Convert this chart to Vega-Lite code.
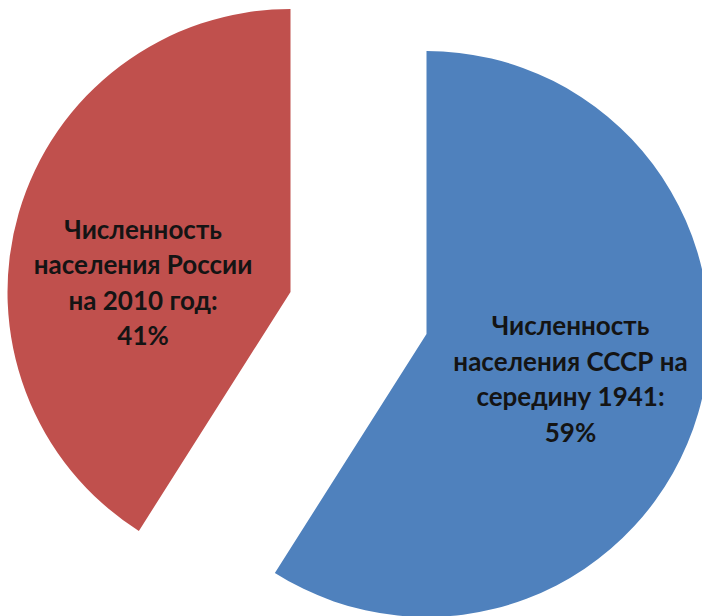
{
  "$schema": "https://vega.github.io/schema/vega-lite/v6.json",
  "width": 702,
  "height": 616,
  "padding": 0,
  "autosize": {"type": "fit", "contains": "padding"},
  "background": "white",
  "view": {"stroke": null},
  "data": {
    "values": [
      {"key": "ussr", "order": 1, "value": 59, "label": "Численность\nнаселения СССР на\nсередину 1941:\n59%"},
      {"key": "russia", "order": 2, "value": 41, "label": "Численность\nнаселения России\nна 2010 год:\n41%"}
    ]
  },
  "transform": [
    {"stack": "value", "groupby": [], "sort": [{"field": "order"}], "as": ["v0", "v1"]},
    {"calculate": "(datum.v0 + datum.v1) / 2", "as": "mid"}
  ],
  "encoding": {
    "theta": {"field": "v0", "type": "quantitative", "scale": {"domain": [0, 100]}}
  },
  "layer": [
    {
      "transform": [{"filter": "datum.key == 'ussr'"}],
      "mark": {"type": "arc", "radius": 283, "xOffset": 83, "yOffset": 27, "fill": "#4F81BD"},
      "encoding": {"theta2": {"field": "v1"}}
    },
    {
      "transform": [{"filter": "datum.key == 'russia'"}],
      "mark": {"type": "arc", "radius": 283, "xOffset": -53, "yOffset": -15, "fill": "#C0504D"},
      "encoding": {"theta2": {"field": "v1"}}
    },
    {
      "transform": [{"filter": "datum.key == 'ussr'"}],
      "mark": {"type": "text", "radius": 151, "xOffset": 82, "yOffset": -22, "font": "Lato", "fontWeight": "bold", "fontSize": 26, "lineHeight": 35.5, "lineBreak": "\n", "align": "center", "baseline": "middle", "fill": "#141414"},
      "encoding": {"theta": {"field": "mid", "type": "quantitative"}, "text": {"field": "label"}}
    },
    {
      "transform": [{"filter": "datum.key == 'russia'"}],
      "mark": {"type": "text", "radius": 140, "xOffset": -66, "yOffset": -37, "font": "Lato", "fontWeight": "bold", "fontSize": 26, "lineHeight": 35.5, "lineBreak": "\n", "align": "center", "baseline": "middle", "fill": "#141414"},
      "encoding": {"theta": {"field": "mid", "type": "quantitative"}, "text": {"field": "label"}}
    }
  ]
}
